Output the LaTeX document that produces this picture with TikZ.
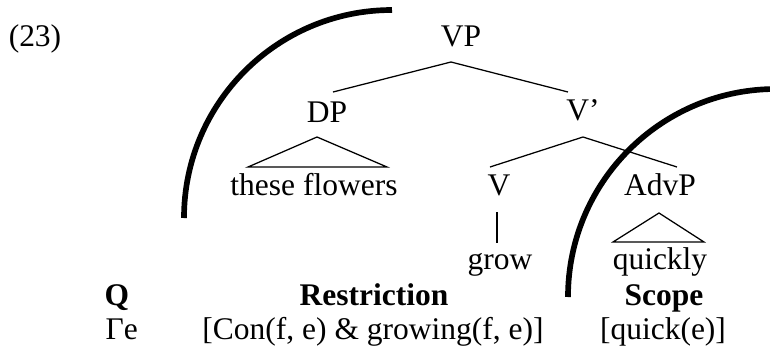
\documentclass[tikz,border=0pt]{standalone}
\usepackage{fontspec}
\setmainfont{Liberation Serif}
\usetikzlibrary{calc}

\tikzset{
  lbl/.style={anchor=base, inner sep=0pt},
  branch/.style={line width=0.4pt},
  scopearc/.style={line width=1.8pt},
}

\begin{document}
\begin{tikzpicture}[x=0.3175pt, y=-0.3175pt]
            \useasboundingbox (0,0) rectangle (770,351);
            \node[lbl] (ex) at (35,46) {(23)};
            % the tree
            \node[lbl] (VP) at (461,46) {VP};
            \node[lbl] (DP) at (327,122) {DP};
            \node[lbl] (Vbar) at (583,120) {V'};
            \node[lbl] (flowers) at (314,195) {these flowers};
            \node[lbl] (V) at (499,195) {V};
            \node[lbl] (AdvP) at (660,195) {AdvP};
            \node[lbl] (grow) at (500,269) {grow};
            \node[lbl] (quickly) at (660,269) {quickly};
            \draw[branch] ($(VP.base) + (-10,16)$) to ($(DP.base) + (6,-30)$);
            \draw[branch] ($(VP.base) + (-10,16)$) to ($(Vbar.base) + (-15,-28)$);
            \draw[branch] ($(Vbar.base) + (0,17)$) to ($(V.base) + (-9,-28)$);
            \draw[branch] ($(Vbar.base) + (0,17)$) to ($(AdvP.base) + (17,-28)$);
            \draw[branch] ($(V.base) + (-2,17)$) to ($(grow.base) + (-3,-26)$);
            \draw[branch] ($(DP.base) + (-10,15)$) -- ($(flowers.base) + (-66,-28)$) -- ($(flowers.base) + (73,-28)$) -- cycle;
            \draw[branch] ($(AdvP.base) + (-1,18)$) -- ($(quickly.base) + (-47,-27)$) -- ($(quickly.base) + (44,-27)$) -- cycle;
            % quantifier, restriction and scope
            \node[lbl, font=\bfseries] (Q) at (117,305) {Q};
            \node[lbl, font=\bfseries] (Restr) at (374,305) {Restriction};
            \node[lbl, font=\bfseries] (Scope) at (664,305) {Scope};
            \node[lbl, anchor=base west] (Qval) at (105,339) {Γe};
            \node[lbl] (Restrval) at (373,339) {[Con(f, e) \& growing(f, e)]};
            \node[lbl] (Scopeval) at (663,339) {[quick(e)]};
            % the two scope arcs
            \draw[scopearc] (392,10) arc[start angle=-90, end angle=-180, radius=208];
            \draw[scopearc] (568,297) arc[start angle=180, end angle=269, radius=208];
        \end{tikzpicture}
\end{document}
